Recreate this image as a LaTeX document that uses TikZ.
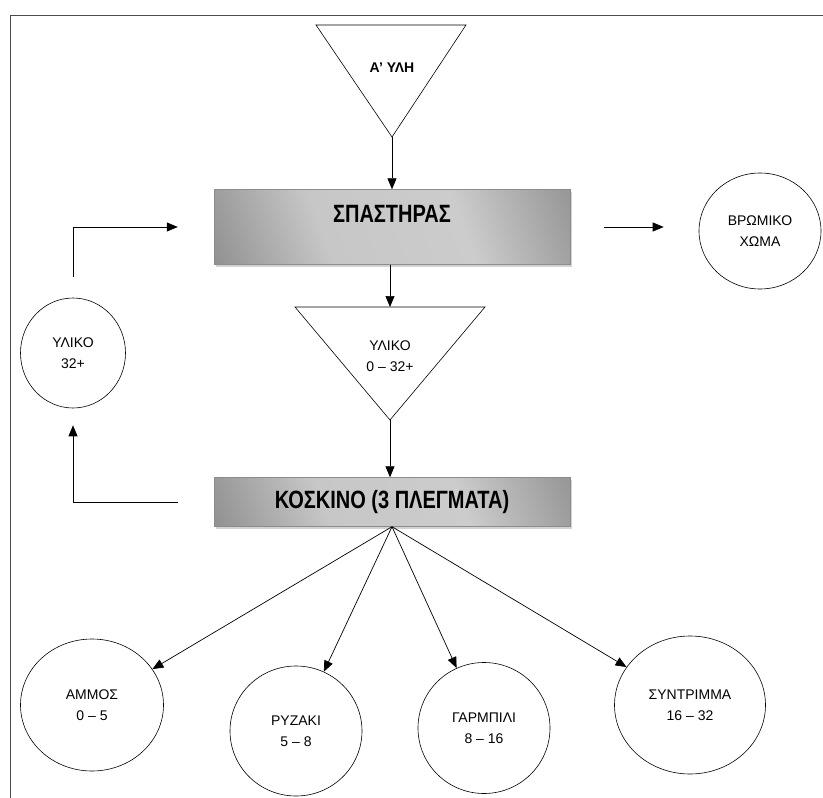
\documentclass[tikz,border=0pt]{standalone}
\usepackage{fontspec}
\setmainfont{Liberation Sans}
\newfontfamily\narrowfont{Liberation Sans}[FakeStretch=0.8]
\usetikzlibrary{positioning,shapes.geometric,arrows.meta,shadows}
\pgfdeclarehorizontalshading{procshade}{100bp}{color(0bp)=(black!62); color(38bp)=(black!22); color(62bp)=(black!20); color(100bp)=(black!60)}
\tikzset{procbox/.style={draw=black!45, shading=procshade, shading angle=20, minimum width=356pt, inner sep=0pt, font=\narrowfont\bfseries\fontsize{25}{29}\selectfont, drop shadow={shadow xshift=2pt, shadow yshift=-2pt, opacity=0.35}}}
\tikzset{blob/.style={draw, ellipse, inner sep=0pt, align=center, line width=0.6pt, font=\fontsize{14}{21}\selectfont}}
\tikzset{arr/.style={draw, -{Triangle[length=11pt,width=9pt]}, line width=0.7pt}}
\tikzset{hopper/.style={draw, line width=0.6pt}}
\tikzset{lbl/.style={align=center, inner sep=0pt, font=\fontsize{14}{21}\selectfont}}

\begin{document}
\begin{tikzpicture}[x=1pt,y=-1pt]
    \useasboundingbox (0,0) rectangle (823,798);
    % frame
    \draw[black!70, line width=0.6pt] (10,798) -- (10,15) -- (823,15);

    % first hopper
    \coordinate (ylhL) at (316,25);
    \coordinate (ylhR) at (466,25);
    \coordinate (ylhtip) at (392,137);
    \draw[hopper] (ylhL) -- (ylhR) -- (ylhtip) -- cycle;
    \node[lbl, font=\bfseries\fontsize{14}{21}\selectfont] (ylh) at (392,68) {Α’ ΥΛΗ};

    % crusher
    \node[procbox, minimum height=75pt, text depth=26pt] (spast) at (392,227) {ΣΠΑΣΤΗΡΑΣ};
    \draw[arr] (ylhtip) -- (spast.north);

    \node[blob, minimum width=122pt, minimum height=116pt] (xoma) at (760,231) {ΒΡΩΜΙΚΟ\\ΧΩΜΑ};
    \draw[arr, shorten <=34pt, shorten >=35pt] (spast.east) -- (spast.east -| xoma.west);

    % second hopper
    \coordinate (ylkL) at (295,307);
    \coordinate (ylkR) at (485,307);
    \coordinate (ylktip) at (390,420);
    \draw[hopper] (ylkL) -- (ylkR) -- (ylktip) -- cycle;
    \node[lbl] (ylk) at (390,356) {ΥΛΙΚΟ\\0 – 32+};
    \draw[arr] (spast.south -| ylktip) -- (ylkL -| ylktip);

    % sieve
    \node[procbox, minimum height=49pt] (kosk) at (392,502) {ΚΟΣΚΙΝΟ (3 ΠΛΕΓΜΑΤΑ)};
    \draw[arr] (ylktip) -- (kosk.north -| ylktip);

    % return loop
    \node[blob, minimum width=105pt, minimum height=110pt] (ret) at (73,353) {ΥΛΙΚΟ\\32+};
    \draw[arr, shorten <=36pt, shorten >=17pt] (kosk.west) -| (ret.south);
    \draw[arr, shorten <=21pt, shorten >=36pt] (ret.north) |- (spast.west);

    % products
    \node[blob, minimum width=143pt, minimum height=132pt] (ammos) at (92,705) {ΑΜΜΟΣ\\0 – 5};
    \node[blob, minimum width=132pt, minimum height=130pt] (ryz) at (296,731) {ΡΥΖΑΚΙ\\5 – 8};
    \node[blob, minimum width=132pt, minimum height=131pt] (garm) at (484,728) {ΓΑΡΜΠΙΛΙ\\8 – 16};
    \node[blob, minimum width=151pt, minimum height=138pt] (syntr) at (690,705) {ΣΥΝΤΡΙΜΜΑ\\16 – 32};
    \foreach \dest in {ammos,ryz,garm,syntr}
        \draw[arr] (kosk.south) -- (\dest);
\end{tikzpicture}
\end{document}
